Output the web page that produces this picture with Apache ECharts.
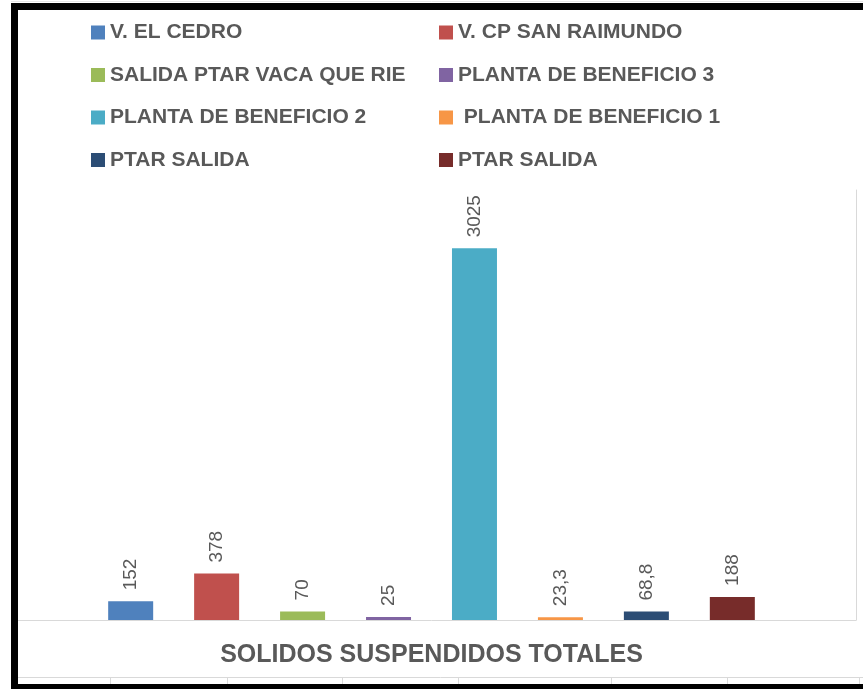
<!DOCTYPE html>
<html>
<head>
<meta charset="utf-8">
<title>Solidos suspendidos totales</title>
<script src="https://cdn.jsdelivr.net/npm/echarts@6/dist/echarts.min.js"></script>
<style>
    html, body { margin: 0; padding: 0; background: #fff; }
    #chart { width: 863px; height: 689px; }
</style>
</head>
<body>
<div id="chart"></div>
<script>
// datos del grafico
var categories = ['SOLIDOS SUSPENDIDOS TOTALES'];
// el segundo "PTAR SALIDA" lleva un espacio final para que la leyenda no lo junte con el primero
var seriesNames = ['V. EL CEDRO', 'V. CP SAN RAIMUNDO', 'SALIDA PTAR VACA QUE RIE', 'PLANTA DE BENEFICIO 3',
    'PLANTA DE BENEFICIO 2', ' PLANTA DE BENEFICIO 1', 'PTAR SALIDA', 'PTAR SALIDA '];
var seriesValues = [152, 378, 70, 25, 3025, 23.3, 68.8, 188];
var seriesColors = ['#4F81BD', '#C0504D', '#9BBB59', '#8064A2', '#4BACC6', '#F79646', '#2C4D75', '#772C2A'];

var gris = '#595959';
var fuente = '"Liberation Sans", Arial, sans-serif';

var series = [];
for (var i = 0; i < seriesNames.length; i++) {
    series.push({
        name: seriesNames[i],
        type: 'bar',
        data: [seriesValues[i]],
        barWidth: 45,
        barGap: '91%',
        itemStyle: { color: seriesColors[i] },
        label: {
            show: true,
            position: 'top',
            distance: 11,
            rotate: 90,
            align: 'left',
            verticalAlign: 'middle',
            color: gris,
            fontFamily: fuente,
            fontSize: 19,
            formatter: function (p) {
                // coma decimal
                return String(p.value).replace('.', ',');
            }
        }
    });
}

// leyenda en dos columnas
var colIzq = seriesNames.filter(function (n, i) { return i % 2 === 0; });
var colDer = seriesNames.filter(function (n, i) { return i % 2 === 1; });
function leyenda(nombres, left) {
    return {
        data: nombres,
        orient: 'vertical',
        left: left,
        top: 22,
        itemWidth: 14,
        itemHeight: 14,
        itemGap: 21.5,
        itemTextGap: 6,
        padding: 0,
        icon: 'rect',
        selectedMode: false,
        textStyle: {
            color: gris,
            fontFamily: fuente,
            fontWeight: 'bold',
            fontSize: 21,
            lineHeight: 20
        }
    };
}

// lineas del marco y de la tabla de abajo
var gLinea = { stroke: '#d9d9d9', lineWidth: 1 };
var cortes = [110, 227, 342, 458, 611, 727, 859];
var graficos = [
    { type: 'line', shape: { x1: 18, y1: 677.5, x2: 863, y2: 677.5 }, style: gLinea, z: 10 }
];
cortes.forEach(function (x) {
    graficos.push({ type: 'line', shape: { x1: x + 0.5, y1: 677, x2: x + 0.5, y2: 684 }, style: gLinea, z: 10 });
});
graficos.push(
    { type: 'rect', shape: { x: 0, y: 0, width: 11, height: 689 }, style: { fill: '#fff' }, z: 19 },
    { type: 'line', shape: { x1: 0, y1: 1.5, x2: 863, y2: 1.5 }, style: { stroke: '#e6e6e6', lineWidth: 1 }, z: 10 },
    { type: 'rect', shape: { x: 11, y: 3, width: 852, height: 7 }, style: { fill: '#000' }, z: 20 },
    { type: 'rect', shape: { x: 11, y: 3, width: 7, height: 686 }, style: { fill: '#000' }, z: 20 },
    { type: 'rect', shape: { x: 11, y: 684, width: 852, height: 5 }, style: { fill: '#000' }, z: 20 }
);

var myChart = echarts.init(document.getElementById('chart'));

var option = {
    backgroundColor: '#fff',
    animation: false,
    legend: [leyenda(colIzq, 91), leyenda(colDer, 439)],
    grid: {
        left: 7,
        right: 7,
        top: 190,
        bottom: 69,
        containLabel: false
    },
    xAxis: {
        type: 'category',
        data: categories,
        axisLine: { lineStyle: { color: '#d9d9d9', width: 1 } },
        axisTick: { show: false },
        axisLabel: {
            margin: 23,
            color: gris,
            fontFamily: fuente,
            fontWeight: 'bold',
            fontSize: 25,
            lineHeight: 24
        }
    },
    yAxis: {
        type: 'value',
        min: 0,
        max: 3500,
        position: 'right',
        axisLine: { show: true, lineStyle: { color: '#d9d9d9', width: 1 } },
        axisTick: { show: false },
        axisLabel: { show: false },
        splitLine: { show: false }
    },
    graphic: graficos,
    series: series
};

myChart.setOption(option);
</script>
</body>
</html>
